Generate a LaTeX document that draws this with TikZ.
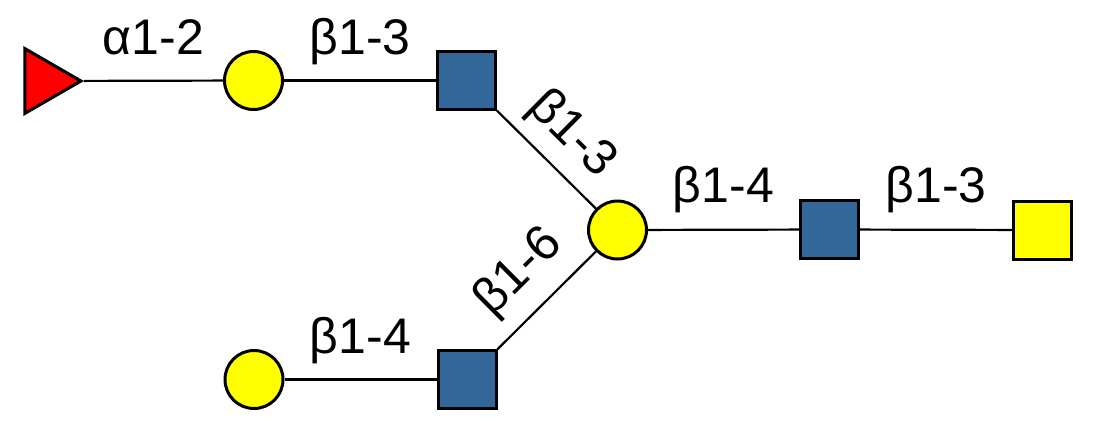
\documentclass[tikz,border=0pt]{standalone}
\usepackage{fontspec}
\setmainfont{Liberation Sans}
\usetikzlibrary{shapes.geometric}

\definecolor{fucred}{RGB}{255,0,0}
\definecolor{galyellow}{RGB}{255,255,0}
\definecolor{nacblue}{RGB}{51,102,153}

\tikzset{
  gal/.style={circle, draw, line width=3pt, fill=galyellow, minimum size=58pt, inner sep=0pt},
  glcnac/.style={rectangle, draw, line width=3pt, fill=nacblue, minimum size=58pt, inner sep=0pt},
  galnac/.style={rectangle, draw, line width=3pt, fill=galyellow, minimum size=58pt, inner sep=0pt},
  fuc/.style={regular polygon, regular polygon sides=3, shape border rotate=-90, draw, line width=3pt, fill=fucred, minimum size=75pt, inner sep=0pt},
  bond/.style={line width=2.2pt},
  lbl/.style={font=\fontsize{50}{56}\selectfont, inner sep=0pt, anchor=base}
}

\begin{document}
\begin{tikzpicture}[x=1pt, y=-1pt]
   \useasboundingbox (0,0) rectangle (1094,426);
   \node[fuc] (F) at (43.5,81) {};
   \node[gal] (G1) at (253.5,80.5) {};
   \node[glcnac] (N1) at (466.5,80.5) {};
   \node[gal] (G2) at (617.5,230) {};
   \node[glcnac] (N2) at (829.5,229.5) {};
   \node[galnac] (A) at (1042.5,230) {};
   \node[gal] (G3) at (254,379.5) {};
   \node[glcnac] (N3) at (467,379.5) {};
   \draw[bond] (F) -- (G1) node[midway, lbl, yshift=26pt] {α1-2};
   \draw[bond] (G1) -- (N1) node[midway, lbl, yshift=26pt] {β1-3};
   \draw[bond] (N1) -- (G2) node[midway, lbl, sloped, yshift=22pt] {β1-3};
   \draw[bond] (N3) -- (G2) node[midway, lbl, sloped, yshift=26pt] {β1-6};
   \draw[bond] (G2) -- (N2) node[midway, lbl, yshift=27pt] {β1-4};
   \draw[bond] (N2) -- (A) node[midway, lbl, yshift=27pt] {β1-3};
   \draw[bond] (G3) -- (N3) node[midway, lbl, yshift=26pt] {β1-4};
\end{tikzpicture}
\end{document}
